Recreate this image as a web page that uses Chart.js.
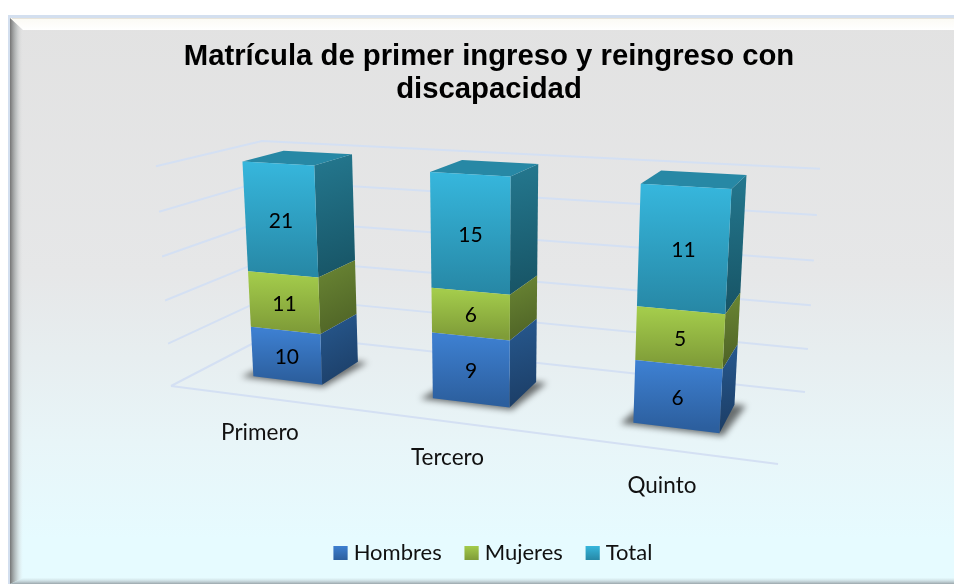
<!DOCTYPE html>
<html><head><meta charset="utf-8">
<style>html,body{margin:0;padding:0;background:#fff;overflow:hidden}#wrap{width:954px;height:584px;position:relative}canvas{display:block}</style>
<script src="https://cdn.jsdelivr.net/npm/chart.js@4"></script>
</head><body><div id="wrap"><canvas id="c" width="954" height="584"></canvas></div>
<script>
const titleLines = ['Matrícula de primer ingreso y reingreso con', 'discapacidad'];
const categories = ['Primero', 'Tercero', 'Quinto'];
const seriesNames = ['Hombres', 'Mujeres', 'Total'];
const hombres = [10, 9, 6];
const mujeres = [11, 6, 5];
const total = [21, 15, 11];
const percentTicks = [0, 20, 40, 60, 80, 100];

const columnTotals = categories.map((_, i) => hombres[i] + mujeres[i] + total[i]);
const toShare = arr => arr.map((v, i) => v / columnTotals[i] * 100);

const palette = [
  {legend:'#3a76c2', front:['#3d7fd0','#2c5f9e'], side:['#27598f','#1b3c64']},
  {legend:'#93b83f', front:['#a3cb4b','#7f9c38'], side:['#6b8734','#4c6025']},
  {legend:'#2fa3c6', front:['#36b6dc','#2788a6'], side:['#24788f','#175364'], top:'#2788a5'}
];

// Perspective box the chart is shown in
const floorCorners = [[171,386],[778,464],[805,392],[271,334]]; // front-left, front-right, back-right, back-left
const wallTops = [[262,140,0,1],[820,169,1,1],[156,167,0,0]];
const barDepth = [0.28, 0.69];
const barShift = 0.002;

function buildCamera(){
  const [p0,p1,p2,p3] = floorCorners;
  const dx1=p1[0]-p2[0], dx2=p3[0]-p2[0], sx=p0[0]-p1[0]+p2[0]-p3[0];
  const dy1=p1[1]-p2[1], dy2=p3[1]-p2[1], sy=p0[1]-p1[1]+p2[1]-p3[1];
  const den=dx1*dy2-dx2*dy1;
  const g=(sx*dy2-dx2*sy)/den, h=(dx1*sy-sx*dy1)/den;
  const a=p1[0]-p0[0]+g*p1[0], b=p3[0]-p0[0]+h*p3[0], c=p0[0];
  const d=p1[1]-p0[1]+g*p1[1], e=p3[1]-p0[1]+h*p3[1], f=p0[1];
  const q=(u,w)=>[a*u+b*w+c, d*u+e*w+f, g*u+h*w+1];
  const rx=t=>{const Q=q(t[2],t[3]);return t[0]*Q[2]-Q[0];};
  const ry=t=>{const Q=q(t[2],t[3]);return t[1]*Q[2]-Q[1];};
  const [t1,t2,t3]=wallTops;
  const C=(rx(t2)-rx(t1))/(t1[0]-t2[0]);
  const A=wallTops.reduce((s,t)=>s+rx(t)+t[0]*C,0)/3;
  const B=wallTops.reduce((s,t)=>s+ry(t)+t[1]*C,0)/3;
  return (u,w,v)=>{const Q=q(u,w);const z=Q[2]+C*v;return [(Q[0]+A*v)/z,(Q[1]+B*v)/z];};
}
const project = buildCamera();

function poly(ctx,pts){ctx.beginPath();pts.forEach((p,i)=>i?ctx.lineTo(p[0],p[1]):ctx.moveTo(p[0],p[1]));ctx.closePath();}
function vGrad(ctx,y0,y1,c0,c1){const g=ctx.createLinearGradient(0,y0,0,y1);g.addColorStop(0,c0);g.addColorStop(1,c1);return g;}

const framePlugin = {
  id:'frame',
  beforeDraw(chart){
    const ctx=chart.ctx, W=chart.width, H=chart.height;
    ctx.save();
    ctx.fillStyle='#fff';ctx.fillRect(0,0,W,H);
    ctx.fillStyle='#d3dfef';ctx.fillRect(8,15,W-8,H-15);
    const L=10,T=18,inL=23,inT=30,B=H,inB=578;
    const bg=ctx.createLinearGradient(0,T,0,H);
    bg.addColorStop(0,'#e2e2e2');bg.addColorStop(0.45,'#e6e7e8');bg.addColorStop(0.75,'#e8f5f8');bg.addColorStop(0.92,'#e6fbff');bg.addColorStop(1,'#e6fbff');
    ctx.fillStyle=bg;ctx.fillRect(L,T,W-L,H-T);
    // top bevel
    poly(ctx,[[L,T],[W,T],[W,inT],[inL,inT]]);ctx.fillStyle=vGrad(ctx,T,inT,'#fbfaf4','#ffffff');ctx.fill();
    ctx.fillStyle='#e8e4da';ctx.fillRect(L+2,T,W-L-2,1);
    // left bevel
    const lg=ctx.createLinearGradient(L,0,inL,0);
    lg.addColorStop(0,'rgba(110,110,110,0.95)');lg.addColorStop(0.5,'rgba(170,175,175,0.6)');lg.addColorStop(1,'rgba(225,225,225,0)');
    poly(ctx,[[L,T],[inL,inT],[inL,inB],[L,B]]);ctx.fillStyle=lg;ctx.fill();
    // bottom bevel
    poly(ctx,[[L,B],[inL,inB],[W,inB],[W,B]]);ctx.fillStyle=vGrad(ctx,inB,B,'rgba(200,215,220,0.1)','rgba(140,150,155,0.85)');ctx.fill();
    ctx.restore();
  }
};

const box3dPlugin = {
  id:'box3d',
  afterLayout(chart){
    // legend sits slightly right of the title's centre
    chart.legend.left+=4;chart.legend.right+=4;
  },
  beforeDatasetsDraw(chart){
    const ctx=chart.ctx, area=chart.chartArea, yS=chart.scales.y;
    const vOf=val=>(area.bottom-yS.getPixelForValue(val))/area.height;
    ctx.save();
    ctx.strokeStyle='#d4e0f3';ctx.lineWidth=2;ctx.lineJoin='round';
    percentTicks.forEach(t=>{
      const v=vOf(t);
      ctx.beginPath();
      const a=project(0,0,v),b=project(0,1,v),c=project(1,1,v);
      ctx.moveTo(a[0],a[1]);ctx.lineTo(b[0],b[1]);ctx.lineTo(c[0],c[1]);
      if(t===0){const d=project(1,0,0);ctx.moveTo(a[0],a[1]);ctx.lineTo(d[0],d[1]);}
      ctx.stroke();
    });
    // floor shadows
    const first=chart.getDatasetMeta(0).data;
    first.forEach(el=>{
      const u0=(el.x-el.width/2-area.left)/area.width+barShift,u1=(el.x+el.width/2-area.left)/area.width+barShift;
      ctx.save();
      ctx.filter='blur(3px)';
      ctx.fillStyle='rgba(0,0,0,0.55)';
      const gu=0.018,gw=0.03;
      poly(ctx,[project(u0-gu,barDepth[0]-gw,0),project(u1+gu*0.4,barDepth[0]-gw,0),project(u1+gu,barDepth[1]+gw*0.2,0),project(u0,barDepth[1],0)]);
      ctx.fill();
      ctx.restore();
    });
    ctx.restore();
  },
  beforeDatasetDraw(chart,args){
    // Each dataset's bars are drawn as perspective boxes from the bar elements
    const ctx=chart.ctx, area=chart.chartArea, meta=args.meta, pal=palette[args.index];
    const [w0,w1]=barDepth;
    ctx.save();
    meta.data.forEach(el=>{
      const u0=(el.x-el.width/2-area.left)/area.width+barShift,u1=(el.x+el.width/2-area.left)/area.width+barShift;
      const vb=(area.bottom-el.base)/area.height,vt=(area.bottom-el.y)/area.height;
      const FTL=project(u0,w0,vt),FTR=project(u1,w0,vt),FBL=project(u0,w0,vb),FBR=project(u1,w0,vb);
      const BTL=project(u0,w1,vt),BTR=project(u1,w1,vt),BBR=project(u1,w1,vb);
      poly(ctx,[FTR,BTR,BBR,FBR]);
      const sg=ctx.createLinearGradient(FTR[0],BTR[1],BBR[0],FBR[1]);
      sg.addColorStop(0,pal.side[0]);sg.addColorStop(1,pal.side[1]);
      ctx.fillStyle=sg;ctx.fill();
      if(pal.top){poly(ctx,[FTL,BTL,BTR,FTR]);ctx.fillStyle=pal.top;ctx.fill();}
      poly(ctx,[FTL,FTR,FBR,FBL]);
      ctx.fillStyle=vGrad(ctx,(FTL[1]+FTR[1])/2,(FBL[1]+FBR[1])/2,pal.front[0],pal.front[1]);ctx.fill();
    });
    ctx.restore();
    return false;
  },
  afterDatasetsDraw(chart){
    const ctx=chart.ctx, area=chart.chartArea;
    const sources=[hombres,mujeres,total];
    ctx.save();
    ctx.fillStyle='#000';ctx.textAlign='center';ctx.textBaseline='middle';ctx.font='21px Lato';
    sources.forEach((vals,di)=>{
      chart.getDatasetMeta(di).data.forEach((el,i)=>{
        const u=(el.x-area.left)/area.width+barShift,v=(area.bottom-(el.y+el.base)/2)/area.height;
        const p=project(u,barDepth[0],v);
        ctx.fillText(String(vals[i]),p[0]+0.5,p[1]+1.5);
      });
    });
    ctx.fillStyle='#111';ctx.font='22.5px Lato';
    const xS=chart.scales.x;
    categories.forEach((_,i)=>{
      const px=xS.getPixelForValue(i);
      const u=(px-area.left)/area.width;
      const p=project(u,-0.45,0);
      ctx.fillText(xS.getLabelForValue(i),p[0]+59-40.5*u,p[1]+7-10*u);
    });
    ctx.restore();
  },
  afterDraw(chart){
    // gradient swatches over legend boxes
    const ctx=chart.ctx,leg=chart.legend;
    if(!leg||!leg.legendHitBoxes)return;
    leg.legendHitBoxes.forEach((b,i)=>{
      const bw=14,bh=leg.options.labels.boxHeight;
      const x=b.left,y=b.top+(b.height-bh)/2;
      ctx.fillStyle=vGrad(ctx,y,y+bh,palette[i].front[0],palette[i].front[1]);
      ctx.fillRect(x,y,bw,bh);
    });
  }
};

new Chart(document.getElementById('c'),{
  type:'bar',
  data:{labels:categories,datasets:[
    {label:seriesNames[0],data:toShare(hombres),backgroundColor:palette[0].legend,borderWidth:0},
    {label:seriesNames[1],data:toShare(mujeres),backgroundColor:palette[1].legend,borderWidth:0},
    {label:seriesNames[2],data:toShare(total),backgroundColor:palette[2].legend,borderWidth:0}
  ]},
  options:{
    responsive:false,animation:false,
    layout:{padding:{left:24,right:0,top:20,bottom:10}},
    datasets:{bar:{categoryPercentage:0.8,barPercentage:0.495}},
    scales:{
      x:{stacked:true,display:false},
      y:{stacked:true,display:false,min:0,max:100,ticks:{stepSize:20}}
    },
    plugins:{
      title:{display:true,text:titleLines,color:'#000',font:{family:'"Liberation Sans"',size:29.3,weight:'bold',lineHeight:1.126},padding:{top:20,bottom:10}},
      legend:{display:true,position:'bottom',labels:{font:{family:'Lato',size:22},color:'#111',boxWidth:9,boxHeight:14,padding:23}},
      tooltip:{enabled:false}
    }
  },
  plugins:[framePlugin,box3dPlugin]
});
</script></body></html>
